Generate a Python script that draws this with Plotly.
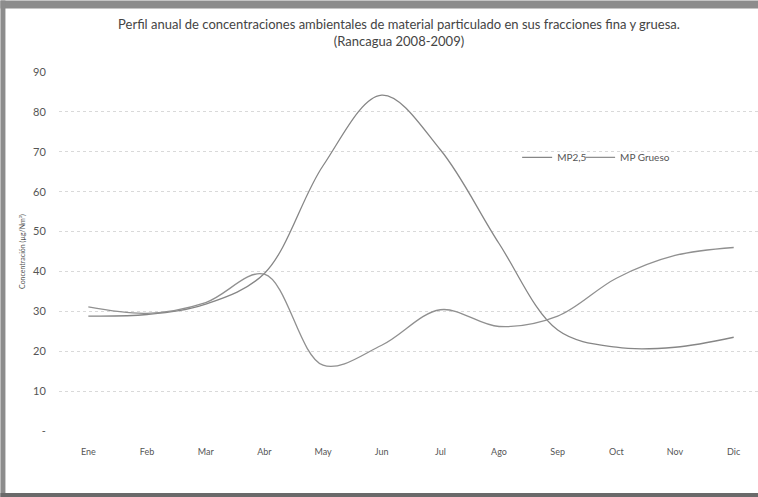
import plotly.graph_objects as go

months = ["Ene", "Feb", "Mar", "Abr", "May", "Jun", "Jul", "Ago", "Sep", "Oct", "Nov", "Dic"]
mp25 = [28.8, 29.2, 31.8, 39.5, 66.5, 84.2, 70.5, 47.0, 25.3, 21.0, 21.0, 23.5]
mp_grueso = [31.1, 29.5, 32.2, 39.3, 16.5, 21.5, 30.4, 26.2, 28.8, 38.3, 44.0, 46.0]
y_ticks = [0, 10, 20, 30, 40, 50, 60, 70, 80, 90]
y_ticktext = ["-", "10", "20", "30", "40", "50", "60", "70", "80", "90"]
grid_ticks = [0, 10, 20, 30, 40, 50, 60, 70, 80]

FONT = "Lato"
W, H = 758, 497
L, R_EDGE, TOP, BOT = 58.6, 758, 71.5, 431
pw, ph = R_EDGE - L, BOT - TOP

def px(x):
    return (x - L) / pw

def py(y):
    return (BOT - y) / ph

fig = go.Figure()
fig.add_trace(go.Scatter(x=list(range(len(months))), y=mp25, name="MP2,5", mode="lines",
                         legend="legend",
                         line=dict(color="#868686", width=1.3, shape="spline", smoothing=1.0)))
fig.add_trace(go.Scatter(x=list(range(len(months))), y=mp_grueso, name="MP Grueso", mode="lines",
                         legend="legend2",
                         line=dict(color="#909090", width=1.3, shape="spline", smoothing=1.0)))
fig.add_trace(go.Scatter(x=[0], y=[0], yaxis="y2", mode="lines", showlegend=False,
                         hoverinfo="skip", line=dict(color="rgba(0,0,0,0)")))

x_right = (R_EDGE - 88) / 58.7
leg_common = dict(orientation="h", y=py(157), xanchor="left", yanchor="middle",
                  bgcolor="rgba(0,0,0,0)", font=dict(family=FONT, size=10, color="#555555"),
                  itemwidth=30)

fig.update_layout(
    width=W, height=H,
    margin=dict(l=L, r=W - R_EDGE, t=TOP, b=H - BOT),
    paper_bgcolor="white", plot_bgcolor="white",
    font=dict(family=FONT, color="#555555"),
    title=dict(text="Perfil anual de concentraciones ambientales de material particulado en sus fracciones fina y gruesa.<br>(Rancagua 2008-2009)",
               x=399 / W, xanchor="center", xref="container",
               y=(H - 29) / H, yanchor="middle", yref="container",
               font=dict(family=FONT, size=13, color="#444444")),
    xaxis=dict(range=[-0.5, x_right], tickmode="array", tickvals=list(range(len(months))),
               ticktext=months, showgrid=False, zeroline=False, showline=False,
               ticks="outside", ticklen=12, tickcolor="rgba(0,0,0,0)",
               tickfont=dict(family=FONT, size=9, color="#555555")),
    yaxis=dict(range=[0, 90], tickmode="array", tickvals=y_ticks, ticktext=y_ticktext,
               showgrid=False, zeroline=False, showline=False,
               ticks="outside", ticklen=10, tickcolor="rgba(0,0,0,0)",
               tickfont=dict(family=FONT, size=11, color="#555555"),
               title=dict(text="Concentración (µg/Nm³)", standoff=6,
                          font=dict(family=FONT, size=7, color="#555555"))),
    yaxis2=dict(range=[0, 90], overlaying="y", tickmode="array", tickvals=grid_ticks,
                showgrid=True, gridcolor="#d9d9d9", gridwidth=1, griddash="dot",
                showticklabels=False, zeroline=False, showline=False),
    legend=dict(x=px(517), **leg_common),
    legend2=dict(x=px(580), **leg_common),
    showlegend=True,
    shapes=[
        dict(type="rect", xref="paper", yref="paper", x0=px(0), x1=px(W), y0=py(0), y1=py(8),
             fillcolor="#8c8c8c", line=dict(width=0), layer="above"),
        dict(type="rect", xref="paper", yref="paper", x0=px(0), x1=px(5), y0=py(0), y1=py(H),
             fillcolor="#8c8c8c", line=dict(width=0), layer="above"),
        dict(type="rect", xref="paper", yref="paper", x0=px(0), x1=px(W), y0=py(493), y1=py(H),
             fillcolor="#6a6a6a", line=dict(width=0), layer="above"),
    ],
)

fig.write_html("out.html", config={"displayModeBar": False},
               post_script="document.body.style.margin='0';document.body.style.overflow='hidden';")
